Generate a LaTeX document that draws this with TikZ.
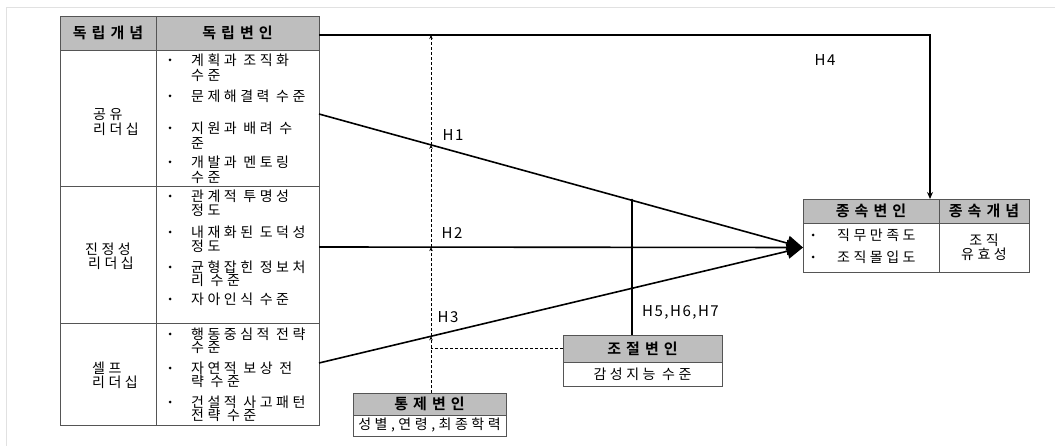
\documentclass[tikz,border=0pt]{standalone}
\usepackage{fontspec}
\setmainfont{Noto Sans CJK KR}[BoldFont={Noto Sans CJK KR Bold},LetterSpace=25]
\newfontfamily\hfont{Noto Sans CJK KR}[LetterSpace=10]
\usetikzlibrary{arrows.meta,intersections}
\definecolor{hdgray}{RGB}{190,190,190}
\definecolor{lngray}{RGB}{85,85,85}
\definecolor{frgray}{RGB}{225,225,225}

\begin{document}
\begin{tikzpicture}[x=1pt,y=-1pt,
    cell/.style={draw=lngray,line width=0.9pt,inner sep=0pt,outer sep=0pt,anchor=north west},
    head/.style={cell,fill=hdgray,font=\fontsize{15}{17}\selectfont\bfseries\addfontfeatures{LetterSpace=34}},
    body/.style={cell,font=\fontsize{14}{15}\selectfont},
    item/.style={anchor=west,inner sep=0pt,font=\fontsize{14}{15}\selectfont},
    bul/.style={circle,fill,inner sep=0pt,minimum size=3pt},
    hyp/.style={line width=1.6pt},
    ctl/.style={line width=1pt,dash pattern=on 3pt off 2pt},
    hlab/.style={inner sep=0pt,font=\hfont\fontsize{15}{15}\selectfont}]
    \useasboundingbox (0,0) rectangle (1055,446);
    \draw[frgray,line width=0.8pt] (6,446) |- (1055,7);
    %% left table
    \node[head,minimum width=96,minimum height=34] (ich) at (60,16) {독립개념};
    \node[head,minimum width=163,minimum height=34] (ivh) at (156,16) {독립변인};
    \node[body,minimum width=96,minimum height=136] (icr1) at (60,50) {};
    \node[body,minimum width=163,minimum height=136] (ivr1) at (156,50) {};
    \node[body,minimum width=96,minimum height=137] (icr2) at (60,186) {};
    \node[body,minimum width=163,minimum height=137] (ivr2) at (156,186) {};
    \node[body,minimum width=96,minimum height=102] (icr3) at (60,323) {};
    \node[body,minimum width=163,minimum height=102] (ivr3) at (156,323) {};
    \node[item] (ka) at (93,115) {공유};
    \node[item] (kb) at (93,129) {리더십};
    \node[item] (kc) at (85,249) {진정성};
    \node[item] (kd) at (88,263) {리더십};
    \node[item] (ke) at (92,368) {셀프};
    \node[item] (kf) at (92,382) {리더십};
    \foreach \y [count=\i] in {60,96,128,162,196,232,267,299,334,368,402}
        \node[bul] (bu\i) at (170,\y) {};
    \foreach \y/\t [count=\i] in {60/계획과 조직화,75/수준,96/문제해결력 수준,128/지원과 배려 수,143/준,162/개발과 멘토링,177/수준}
        \node[item] (ta\i) at (191,\y) {\t};
    \foreach \y/\t [count=\i] in {196/관계적 투명성,210/정도,232/내재화된 도덕성,246/정도,267/균형잡힌 정보처,280/리 수준,299/자아인식 수준}
        \node[item] (tb\i) at (191,\y) {\t};
    \foreach \y/\t [count=\i] in {334/행동중심적 전략,347/수준,368/자연적 보상 전,381/략 수준,402/건설적 사고패턴,415/전략 수준}
        \node[item] (tc\i) at (191,\y) {\t};
    %% right table
    \node[head,minimum width=136,minimum height=24] (dvh) at (803,199) {종속변인};
    \node[head,minimum width=90,minimum height=24] (dch) at (939,199) {종속개념};
    \node[body,minimum width=136,minimum height=49] (dvb) at (803,223) {};
    \node[body,minimum width=90,minimum height=49,align=center] (dcb) at (939,223) {조직\\[-1pt]유효성};
    \node[bul] (bd1) at (813,235) {};
    \node[bul] (bd2) at (813,257) {};
    \node[item] (td1) at (837,235) {직무만족도};
    \node[item] (td2) at (837,257) {조직몰입도};
    %% moderator and control boxes
    \node[head,minimum width=159,minimum height=27] (modh) at (563,335) {조절변인};
    \node[body,minimum width=159,minimum height=24] (modb) at (563,362) {감성지능 수준};
    \node[head,minimum width=153,minimum height=22] (ctlh) at (353,393) {통제변인};
    \node[body,minimum width=153,minimum height=21] (ctlb) at (353,415) {성별,연령,최종학력};
    %% hypotheses
    \coordinate (h1s) at ([yshift=4pt]ivr1.east);
    \coordinate (h2s) at ([yshift=7.5pt]ivr2.east);
    \coordinate (h3s) at ([yshift=11pt]ivr3.east);
    \coordinate (h4s) at ([yshift=-2pt]ivh.east);
    \draw[hyp,name path=p1,-{Triangle[length=16pt,width=15pt]}] (h1s) -- (dvb.west);
    \draw[hyp,name path=p2,-{Triangle[length=16pt,width=15pt]}] (h2s) -- (dvb.west);
    \draw[hyp,name path=p3,-{Triangle[length=16pt,width=15pt]}] (h3s) -- (dvb.west);
    \draw[hyp,-{Stealth[length=7pt,width=6pt]}] (h4s) -| ([xshift=-9pt]dvh.north east);
    %% moderator line
    \coordinate (mt) at ([xshift=-10.5pt]modh.north);
    \path[name path=mv] (mt) -- (mt |- h4s);
    \path[name intersections={of=mv and p1,by=m1}];
    \path[name intersections={of=mv and p2,by=m2}];
    \path[name intersections={of=mv and p3,by=m3}];
    \draw[hyp] (mt) -- (m1);
    \foreach \m in {m1,m2,m3}
        \fill (\m) circle (1.8pt);
    %% control line
    \coordinate (ct) at ([xshift=1.5pt]ctlh.north);
    \coordinate (c0) at (h4s -| ct);
    \path[name path=cv] (ct) -- (c0);
    \path[name intersections={of=cv and p1,by=c1}];
    \path[name intersections={of=cv and p2,by=c2}];
    \path[name intersections={of=cv and p3,by=c3}];
    \draw[ctl,-{Stealth[length=4pt,width=3.5pt]}] (ct) -- (c3);
    \draw[ctl,-{Stealth[length=4pt,width=3.5pt]}] (c3) -- (c2);
    \draw[ctl,-{Stealth[length=4pt,width=3.5pt]}] (c2) -- (c1);
    \draw[ctl,-{Stealth[length=4pt,width=3.5pt]}] (c1) -- (c0);
    \draw[ctl] (modh.west) -- (modh.west -| ct);
    %% labels
    \node[hlab] (l1) at (453,135) {H1};
    \node[hlab] (l2) at (452,233) {H2};
    \node[hlab] (l3) at (448,317) {H3};
    \node[hlab] (l4) at (825,60) {H4};
    \node[hlab,anchor=west] (l5) at (642,312) {H5,H6,H7};
\end{tikzpicture}
\end{document}
